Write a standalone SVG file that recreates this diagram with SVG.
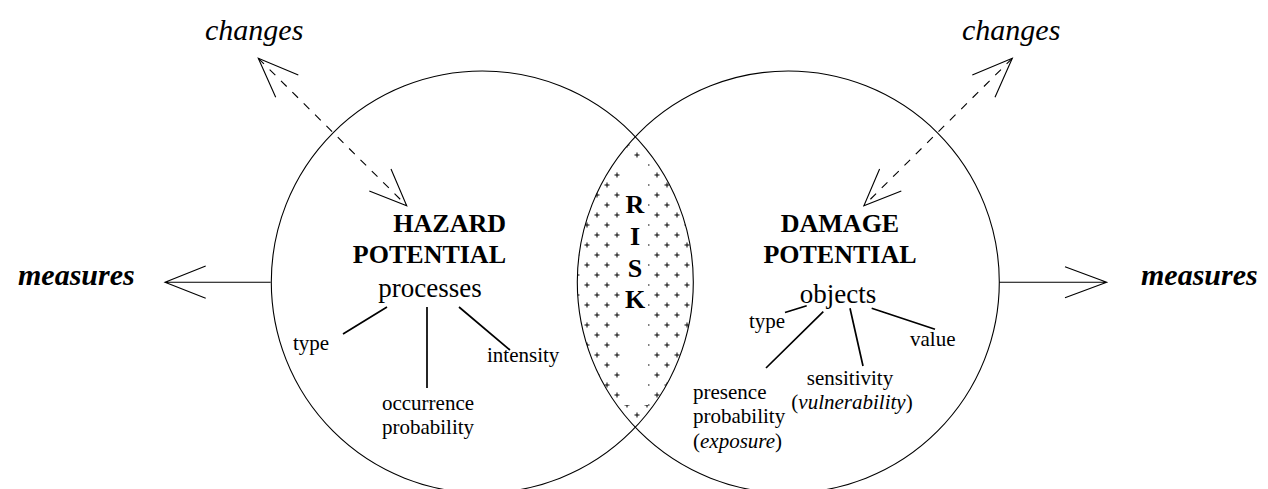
<svg xmlns="http://www.w3.org/2000/svg" width="1268" height="489" viewBox="0 0 1268 489">
<style>
.ln{fill:none;stroke:#000;stroke-width:1.1}
.tr{fill:none;stroke:#000;stroke-width:1.7}
.ds{fill:none;stroke:#000;stroke-width:1.1;stroke-dasharray:8 8}
.t{font-family:"Liberation Serif","Times New Roman",serif;fill:#000}
.b{font-weight:bold;font-size:26px}
.m{font-weight:bold;font-style:italic;font-size:30px}
.c{font-style:italic;font-size:30px}
.s{font-size:21px}
.p{font-size:27px}
</style>
<defs>
<pattern id="plus" patternUnits="userSpaceOnUse" x="0" y="0" width="20" height="20">
<path d="M4.5 5H9.5M7 2.5V7.5M14.5 15H19.5M17 12.5V17.5" stroke="#000" stroke-width="1" fill="none"/>
</pattern>
</defs>
<rect width="1268" height="489" fill="#fff"/>
<g id="risk">
<path d="M635.3 136.7A211 211 0 0 1 635.3 427.3A211 211 0 0 1 635.3 136.7Z" fill="url(#plus)"/>
<rect x="620" y="160" width="28" height="245" fill="#fff"/>
<text class="t b" text-anchor="middle" x="635"><tspan x="635" y="213">R</tspan><tspan x="635" y="245">I</tspan><tspan x="635" y="277">S</tspan><tspan x="635" y="308">K</tspan></text>
</g>
<g id="hazard">
<circle cx="482.3" cy="282" r="211" class="ln"/>
<text class="t b" x="506" y="232" text-anchor="end">HAZARD</text>
<text class="t b" x="506" y="263" text-anchor="end">POTENTIAL</text>
<text class="t p" x="430" y="297" text-anchor="middle">processes</text>
<text class="t s" x="293" y="350">type</text>
<text class="t s" x="487" y="362">intensity</text>
<text class="t s" x="428" y="410" text-anchor="middle">occurrence</text>
<text class="t s" x="428" y="434" text-anchor="middle">probability</text>
</g>
<g id="damage">
<circle cx="788.3" cy="282" r="211" class="ln"/>
<text class="t b" x="840" y="232" text-anchor="middle">DAMAGE</text>
<text class="t b" x="840" y="263" text-anchor="middle">POTENTIAL</text>
<text class="t p" x="838" y="303" text-anchor="middle">objects</text>
<text class="t s" x="749" y="328">type</text>
<text class="t s" x="910" y="346">value</text>
<text class="t s" x="693" y="399">presence</text>
<text class="t s" x="693" y="423">probability</text>
<text class="t s" x="693" y="448">(<tspan font-style="italic">exposure</tspan>)</text>
<text class="t s" x="850" y="385" text-anchor="middle">sensitivity</text>
<text class="t s" x="852" y="409" text-anchor="middle">(<tspan font-style="italic">vulnerability</tspan>)</text>
</g>
<g id="measures-left"><text class="t m" x="18" y="285">measures</text></g>
<g id="measures-right"><text class="t m" x="1141" y="285">measures</text></g>
<g id="changes-left"><text class="t c" x="205" y="40">changes</text></g>
<g id="changes-right"><text class="t c" x="962" y="40">changes</text></g>
<g id="connectors">
<path class="ln" d="M270.7 282.3H165M205.7 266L165 282.3L205.7 298.3"/>
<path class="ln" d="M999.3 282.3H1106.7M1065 266.7L1106.7 282.3L1065 297.7"/>
<path class="ds" d="M258.3 58.3L406.7 205.7"/>
<path class="ln" d="M298.3 75L258.3 58.3L275.7 97.3M369.3 191L406.7 205.7L391 169"/>
<path class="ds" d="M1012.3 58.3L863.9 205.7"/>
<path class="ln" d="M972.3 75L1012.3 58.3L995 97.3M901.3 191L863.9 205.7L879.6 169"/>
<path class="tr" d="M387 307L343 334M427 307V388M459 307L510 350"/>
<path class="tr" d="M806.7 305.7L785 312.5M823.3 311.7L766 368M850 308.3L863 366M871.7 308.3L935 329.3"/>
</g>
</svg>
